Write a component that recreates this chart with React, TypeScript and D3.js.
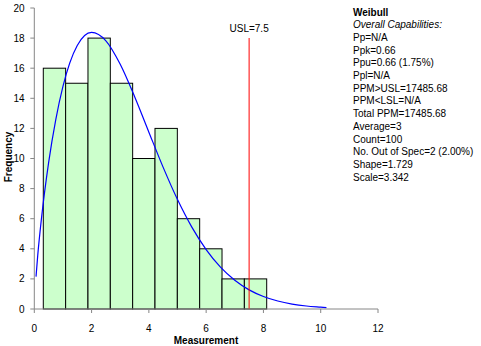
import React from "react";
import * as d3 from "d3";

const binEdges = [0.314, 1.094, 1.874, 2.654, 3.434, 4.214, 4.994, 5.774, 6.554, 7.334, 8.114];
const binCounts = [16, 15, 18, 15, 10, 12, 6, 4, 2, 2];
const curveX = [0.06, 0.12, 0.25, 0.5, 0.75, 1, 1.5, 2, 2.5, 3, 3.5, 4, 4.5, 5, 5.5, 6, 6.5, 7, 7.5, 8, 8.5, 9, 9.5, 10, 10.2];
const curveY = [2.15, 3.56, 6.02, 9.73, 12.59, 14.79, 17.51, 18.38, 17.82, 16.26, 14.12, 11.75, 9.41, 7.27, 5.44, 3.95, 2.78, 1.91, 1.27, 0.83, 0.53, 0.33, 0.2, 0.12, 0.09];
const xTicks = [0, 2, 4, 6, 8, 10, 12];
const yTicks = [0, 2, 4, 6, 8, 10, 12, 14, 16, 18, 20];
const uslValue = 7.5;
const uslLabel = "USL=7.5";
const panelTitle = "Weibull";
const panelSubtitle = "Overall Capabilities:";
const panelLines = [
  "Pp=N/A",
  "Ppk=0.66",
  "Ppu=0.66 (1.75%)",
  "Ppl=N/A",
  "PPM>USL=17485.68",
  "PPM<LSL=N/A",
  "Total PPM=17485.68",
  "Average=3",
  "Count=100",
  "No. Out of Spec=2 (2.00%)",
  "Shape=1.729",
  "Scale=3.342",
];

export default function App() {
  const W = 481, H = 346;
  const x = d3.scaleLinear().domain([0, 12]).range([34.3, 378]);
  const y = d3.scaleLinear().domain([0, 20]).range([309, 8]);
  const font = "'Liberation Sans', Arial, sans-serif";
  const axisColor = "#868686";
  const line = d3
    .line<number>()
    .x((_, i) => x(curveX[i]))
    .y((d) => y(d))
    .curve(d3.curveMonotoneX);

  return (
    <svg width={W} height={H} style={{ position: "absolute", left: 0, top: 0, background: "#fff" }}>
      {binCounts.map((c, i) => (
        <rect
          key={i}
          x={x(binEdges[i])}
          y={y(c)}
          width={x(binEdges[i + 1]) - x(binEdges[i])}
          height={y(0) - y(c)}
          fill="#CCFFCC"
          stroke="#000"
          strokeWidth={1}
        />
      ))}
      <path d={line(curveY) || ""} fill="none" stroke="#0000FF" strokeWidth={1.2} />
      <line x1={x(uslValue)} x2={x(uslValue)} y1={38} y2={y(0)} stroke="#FF0000" strokeWidth={1} />
      <text x={x(uslValue)} y={32} textAnchor="middle" fontFamily={font} fontSize={10} fill="#000">
        {uslLabel}
      </text>
      {/* axes */}
      <line x1={x(0)} x2={x(0)} y1={y(20)} y2={y(0)} stroke={axisColor} />
      <line x1={x(0)} x2={x(12)} y1={y(0)} y2={y(0)} stroke={axisColor} />
      {yTicks.map((t) => (
        <g key={t}>
          <line x1={x(0) - 4} x2={x(0)} y1={y(t)} y2={y(t)} stroke={axisColor} />
          <text x={24.5} y={y(t)} dy="0.35em" textAnchor="end" fontFamily={font} fontSize={10} fill="#000">
            {t}
          </text>
        </g>
      ))}
      {xTicks.map((t) => (
        <g key={t}>
          <line x1={x(t)} x2={x(t)} y1={y(0)} y2={y(0) + 4} stroke={axisColor} />
          <text x={x(t)} y={328} dy="0.35em" textAnchor="middle" fontFamily={font} fontSize={10} fill="#000">
            {t}
          </text>
        </g>
      ))}
      <text
        transform={`translate(8,157) rotate(-90)`}
        textAnchor="middle"
        dy="0.35em"
        fontFamily={font}
        fontSize={10}
        fontWeight="bold"
        fill="#000"
      >
        Frequency
      </text>
      <text x={206} y={340} dy="0.35em" textAnchor="middle" fontFamily={font} fontSize={10} fontWeight="bold" fill="#000">
        Measurement
      </text>
      {/* panel */}
      <text x={353} y={12} dy="0.35em" fontFamily={font} fontSize={10} fontWeight="bold" fill="#000">
        {panelTitle}
      </text>
      <text x={353} y={24.7} dy="0.35em" fontFamily={font} fontSize={10} fontStyle="italic" fill="#000">
        {panelSubtitle}
      </text>
      {panelLines.map((s, i) => (
        <text key={i} x={353} y={37.4 + i * 12.7} dy="0.35em" fontFamily={font} fontSize={10} fill="#000">
          {s}
        </text>
      ))}
    </svg>
  );
}
